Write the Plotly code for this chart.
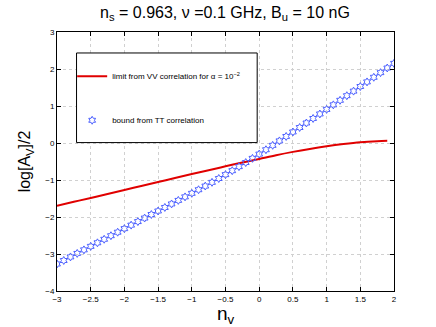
import plotly.graph_objects as go

# Blue: bound from TT correlation (hexagram markers)
tt_x = [round(-3 + 0.1 * i, 1) for i in range(51)]
tt_y = [-3.270, -3.175, -3.079, -2.984, -2.888, -2.793, -2.697, -2.602, -2.506, -2.411,
        -2.315, -2.220, -2.124, -2.029, -1.933, -1.838, -1.742, -1.647, -1.551, -1.456,
        -1.360, -1.263, -1.164, -1.063, -0.960, -0.855, -0.748, -0.639, -0.528, -0.415,
        -0.300, -0.182, -0.063, 0.057, 0.177, 0.298, 0.419, 0.541, 0.663, 0.785,
        0.908, 1.031, 1.154, 1.278, 1.402, 1.526, 1.651, 1.776, 1.901, 2.027, 2.153]

# Red: limit from VV correlation
vv_x = [-3, -2.75, -2.5, -2.25, -2, -1.75, -1.5, -1.25, -1, -0.75, -0.5, -0.25,
        0, 0.25, 0.5, 0.75, 1, 1.25, 1.5, 1.75, 1.9]
vv_y = [-1.70, -1.59, -1.485, -1.378, -1.27, -1.163, -1.055, -0.948, -0.84, -0.735, -0.63, -0.528,
        -0.43, -0.33, -0.24, -0.16, -0.09, -0.03, 0.02, 0.05, 0.06]

x_ticks = [-3, -2.5, -2, -1.5, -1, -0.5, 0, 0.5, 1, 1.5, 2]
y_ticks = [-4, -3, -2, -1, 0, 1, 2, 3]

FONT = "Liberation Sans, Arial, sans-serif"

fig = go.Figure()
fig.add_trace(go.Scatter(
    x=vv_x, y=vv_y, mode="lines", line=dict(color="#e00000", width=2, shape="spline"),
    name="limit from VV correlation for α = 10<sup>−2</sup>", legendgroup="a"))
fig.add_trace(go.Scatter(
    x=tt_x, y=tt_y, mode="markers",
    marker=dict(symbol="hexagram-open", size=6, color="#4b5fff", line=dict(width=1, color="#4b5fff")),
    name="bound from TT correlation", legendgroup="b"))

# legend frame
fig.add_shape(type="rect", xref="paper", yref="paper", x0=0.058, x1=0.594, y0=0.573, y1=0.919,
              line=dict(color="black", width=1), fillcolor="white", layer="above")

axis_common = dict(showline=True, linecolor="black", linewidth=1, mirror="ticks",
                   ticks="inside", ticklen=4, tickcolor="black", automargin=False,
                   showgrid=True, gridcolor="#d0d0d0", griddash="dot", gridwidth=1,
                   zeroline=False, tickfont=dict(size=8, family=FONT, color="black"))

fig.update_layout(
    width=436, height=327,
    margin=dict(l=57, r=42, t=32, b=36, autoexpand=False),
    paper_bgcolor="white", plot_bgcolor="white",
    font=dict(family=FONT, color="black"),
    title=dict(text="n<sub>s</sub> = 0.963, ν =0.1 GHz, B<sub>u</sub> = 10 nG",
               x=0.516, xanchor="center", y=0.98, yanchor="top",
               font=dict(size=16, family=FONT), automargin=False),
    xaxis=dict(range=[-3, 2], tickvals=x_ticks, title=dict(text="n<sub>v</sub>", font=dict(size=19), standoff=0),
               **axis_common),
    yaxis=dict(range=[-4, 3], tickvals=y_ticks, title=dict(text="log[A<sub>V</sub>]/2", font=dict(size=16), standoff=10),
               **axis_common),
    showlegend=True,
    legend=dict(x=0.045, y=0.885, xanchor="left", yanchor="top", bgcolor="rgba(0,0,0,0)",
                borderwidth=0, font=dict(size=8, family=FONT), tracegroupgap=25),
)

fig.write_html("out.html", config={"displayModeBar": False},
               post_script="document.body.style.margin='0px';")
